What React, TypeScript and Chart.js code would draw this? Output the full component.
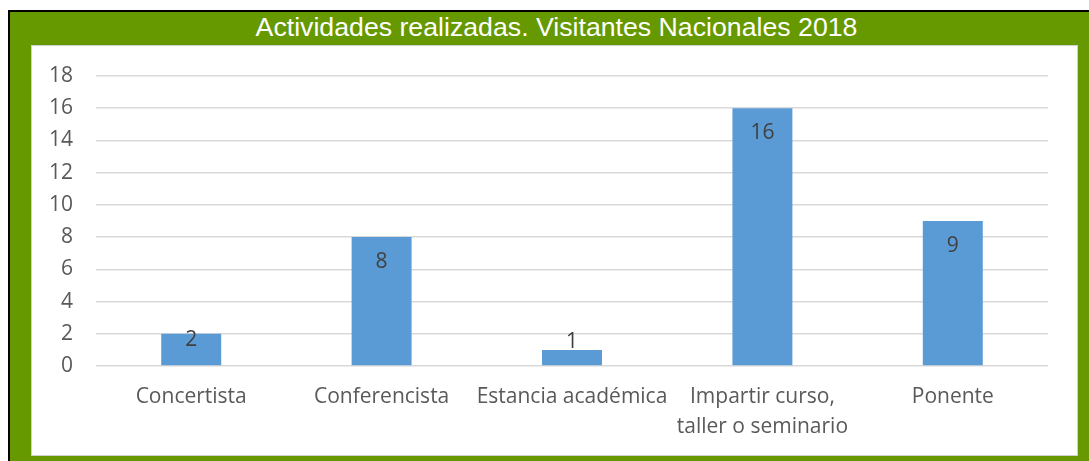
import React, { useEffect, useRef } from "react";
import { Chart, registerables } from "chart.js";

Chart.register(...registerables);

const title = "Actividades realizadas. Visitantes Nacionales 2018";
const categories: (string | string[])[] = [
  "Concertista",
  "Conferencista",
  "Estancia académica",
  ["Impartir curso,", "taller o seminario"],
  "Ponente",
];
const values = [2, 8, 1, 16, 9];
const yTicks = [0, 2, 4, 6, 8, 10, 12, 14, 16, 18];

const FONT = "'Open Sans', 'Noto Sans', sans-serif";

const labelPlugin = {
  id: "barLabels",
  afterDatasetsDraw(chart: any) {
    const ctx = chart.ctx;
    const meta = chart.getDatasetMeta(0);
    ctx.save();
    ctx.font = `21px ${FONT}`;
    ctx.fillStyle = "#404040";
    ctx.textAlign = "center";
    meta.data.forEach((bar: any, i: number) => {
      const h = bar.base - bar.y;
      const txt = String(values[i]);
      if (h < 24) {
        ctx.textBaseline = "bottom";
        ctx.fillText(txt, bar.x, bar.y + 3);
      } else {
        ctx.textBaseline = "middle";
        ctx.fillText(txt, bar.x, bar.y + Math.min(25, h / 2 - 9));
      }
    });
    ctx.restore();
  },
};

export default function App() {
  const ref = useRef<HTMLCanvasElement | null>(null);
  useEffect(() => {
    if (!ref.current) return;
    const chart = new Chart(ref.current, {
      type: "bar",
      data: {
        labels: categories,
        datasets: [
          {
            data: values,
            backgroundColor: "#5B9BD5",
            categoryPercentage: 1,
            barPercentage: 0.315,
          },
        ],
      },
      options: {
        animation: false,
        responsive: false,
        maintainAspectRatio: false,
        layout: { padding: { left: 0, right: 29, top: 30, bottom: 0 } },
        plugins: {
          legend: { display: false },
          tooltip: { enabled: false },
          title: { display: false },
        },
        scales: {
          x: {
            grid: { display: false, drawTicks: false },
            border: { display: false },
            ticks: {
              color: "#595959",
              font: { family: FONT, size: 21, lineHeight: 1.43 },
              padding: 16,
              maxRotation: 0,
              autoSkip: false,
            },
            afterFit(scale: any) {
              scale.height = 89;
            },
          },
          y: {
            min: 0,
            max: 18,
            afterBuildTicks(scale: any) {
              scale.ticks = yTicks.map((v) => ({ value: v }));
            },
            grid: {
              color: "#d9d9d9",
              lineWidth: 1.5,
              drawTicks: true,
              tickLength: 23,
              tickColor: "rgba(0,0,0,0)",
            },
            border: { display: false },
            ticks: {
              color: "#595959",
              font: { family: FONT, size: 21 },
              padding: 0,
            },
            afterFit(scale: any) {
              scale.width = 64;
            },
          },
        },
      },
      plugins: [labelPlugin],
    });
    return () => chart.destroy();
  }, []);

  return (
    <div
      style={{
        position: "fixed",
        left: 8,
        top: 10,
        width: 1081,
        height: 460,
        boxSizing: "border-box",
        borderTop: "2px solid #000",
        borderLeft: "2px solid #000",
        background: "#669900",
      }}
    >
      <div
        style={{
          position: "absolute",
          left: 0,
          top: 0,
          width: 1093,
          height: 31,
          lineHeight: "31px",
          textAlign: "center",
          color: "#fff",
          fontFamily: "'Liberation Sans', Arial, sans-serif",
          fontSize: 26.7,
          whiteSpace: "nowrap",
        }}
      >
        {title}
      </div>
      <div
        style={{
          position: "absolute",
          left: 21,
          top: 33,
          width: 1047,
          height: 411,
          boxSizing: "border-box",
          border: "1px solid #d0d0d0",
          background: "#fff",
        }}
      >
        <canvas ref={ref} width={1045} height={409} style={{ display: "block" }} />
      </div>
    </div>
  );
}
